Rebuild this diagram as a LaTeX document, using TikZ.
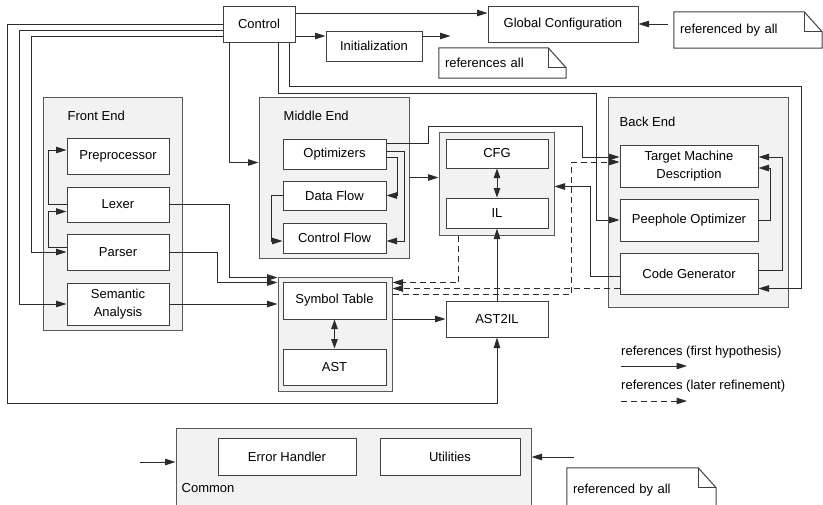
\documentclass[tikz,border=0pt]{standalone}
\usepackage{fontspec}
\setmainfont{Liberation Sans}
\usetikzlibrary{calc,arrows.meta,positioning}
\definecolor{cwire}{HTML}{2B2B2B}
\definecolor{cedge}{HTML}{404040}
\definecolor{cgroupedge}{HTML}{595959}
\definecolor{cgroup}{HTML}{F2F2F2}

\tikzset{
  wire/.style={draw=cwire, line width=1pt},
  refarr/.style={wire, -{Triangle[length=10.5pt,width=6.5pt]}},
  refdash/.style={refarr, dash pattern=on 6pt off 4pt},
  twoway/.style={wire, {Triangle[length=9.5pt,width=6.5pt]}-{Triangle[length=9.5pt,width=6.5pt]}},
  unit/.style={draw=cedge, fill=white, line width=1pt, inner sep=1pt, align=center},
  group/.style={draw=cgroupedge, fill=cgroup, line width=1pt},
  grouplabel/.style={anchor=west, inner sep=0pt},
  note/.style={inner xsep=6pt, inner ysep=0pt, align=left}
}
% folded corner of a note, drawn round a named node
\newcommand{\dogear}[1]{%
  \draw[draw=cedge, line width=1pt] (#1.north west) -- ($(#1.north east)+(-18,0)$) -- ($(#1.north east)+(0,20)$) -- (#1.south east) -- (#1.south west) -- cycle;
  \draw[draw=cedge, line width=1pt] ($(#1.north east)+(-18,0)$) |- ($(#1.north east)+(0,20)$);}

\begin{document}
\begin{tikzpicture}[x=1pt, y=-1pt, font=\fontsize{13}{18.5}\selectfont]
\useasboundingbox (0,0) rectangle (823,504);
%% groups
\node[group, minimum width=139pt, minimum height=233pt] (FrontEnd) at (112.5,213.5) {};
\node[group, minimum width=150pt, minimum height=161pt] (MidEnd) at (334,177.5) {};
\node[group, minimum width=115pt, minimum height=103pt] (CFGgrp) at (496.5,183.5) {};
\node[group, minimum width=114pt, minimum height=114pt] (SymGrp) at (335,334) {};
\node[group, minimum width=180pt, minimum height=210pt] (BackEnd) at (698,202) {};
\node[group, minimum width=355pt, minimum height=84pt] (Common) at (353.5,470) {};
\node[grouplabel] (FrontEndLbl) at ($(FrontEnd.north west)+(25,19)$) {Front End};
\node[grouplabel] (MidEndLbl) at ($(MidEnd.north west)+(25,19)$) {Middle End};
\node[grouplabel] (BackEndLbl) at ($(BackEnd.north west)+(12,25)$) {Back End};
\node[grouplabel] (CommonLbl) at ($(Common.north west)+(6,61)$) {Common};
%% units
\node[unit, minimum width=72pt, minimum height=36pt] (Control) at (259,24) {Control};
\node[unit, minimum width=96pt, minimum height=30pt] (Init) at (374,46) {Initialization};
\node[unit, minimum width=150pt, minimum height=36pt] (GlobConf) at (563,24) {Global Configuration};
\node[unit, minimum width=102pt, minimum height=36pt] (Prep) at (118,156) {Preprocessor};
\node[unit, minimum width=102pt, minimum height=35pt] (Lexer) at (118,204.5) {Lexer};
\node[unit, minimum width=102pt, minimum height=36pt] (Parser) at (118,252) {Parser};
\node[unit, minimum width=102pt, minimum height=42pt] (Semantic) at (118,304) {Semantic\\Analysis};
\node[unit, minimum width=103pt, minimum height=30pt] (Opt) at (334.5,154) {Optimizers};
\node[unit, minimum width=103pt, minimum height=29pt] (DataFlow) at (334.5,195.5) {Data Flow};
\node[unit, minimum width=103pt, minimum height=30pt] (CtrlFlow) at (334.5,238) {Control Flow};
\node[unit, minimum width=102pt, minimum height=29pt] (CFG) at (497,153.5) {CFG};
\node[unit, minimum width=102pt, minimum height=30pt] (IL) at (497,213) {IL};
\node[unit, minimum width=103pt, minimum height=37pt] (SymTab) at (334.5,300.5) {Symbol Table};
\node[unit, minimum width=103pt, minimum height=36pt] (AST) at (334.5,367) {AST};
\node[unit, minimum width=102pt, minimum height=36pt] (AST2IL) at (497,319) {AST2IL};
\node[unit, minimum width=138pt, minimum height=42pt] (Target) at (689,166) {Target Machine\\Description};
\node[unit, minimum width=138pt, minimum height=42pt] (Peephole) at (689,220) {Peephole Optimizer};
\node[unit, minimum width=138pt, minimum height=41pt] (CodeGen) at (689,273.5) {Code Generator};
\node[unit, minimum width=138pt, minimum height=37pt] (ErrHandler) at (287,456.5) {Error Handler};
\node[unit, minimum width=140pt, minimum height=37pt] (Utilities) at (450,456.5) {Utilities};
%% notes
\node[note, minimum width=148pt, minimum height=36pt, text width=136pt] (NoteGlob) at (748,30) {referenced by all};
\dogear{NoteGlob}
\node[note, minimum width=127pt, minimum height=30pt, text width=115pt] (NoteInit) at (502.5,63) {references all};
\dogear{NoteInit}
\node[note, minimum width=149pt, minimum height=44pt, text width=137pt] (NoteCommon) at (641.5,490) {referenced by all};
\dogear{NoteCommon}
%% control
\draw[refarr] (Control.west) -| (7,403) -| (AST2IL.south);
\draw[refarr] ($(Control.west)+(0,6)$) -| ($(Semantic.west)+(-47,0)$) -- (Semantic.west);
\draw[refarr] ($(Control.west)+(0,12)$) -| ($(Parser.west)+(-35,0)$) -- (Parser.west);
\draw[refarr] ($(Control.south west)+(7,0)$) |- ($(MidEnd.west)+(0,-15)$);
\draw[refarr] ($(Control.south)+(19,0)$) |- (596,93) |- (Peephole.west);
\draw[refarr] ($(Control.south)+(30,0)$) |- (801,86) |- ($(CodeGen.east)+(0,15)$);
\draw[refarr] ($(Control.east)+(0,-11)$) -- ($(GlobConf.west)+(0,-11)$);
\draw[refarr] ($(Control.east)+(0,12)$) -- ($(Init.west)+(0,-10)$);
\draw[refarr] ($(Init.east)+(0,-10)$) -- ++(28,0);
\draw[refarr] ($(GlobConf.east)+(29,0)$) -- (GlobConf.east);
%% front end
\draw[refarr] (Lexer.west) -| ($(Prep.west)+(-18,-6)$) -- ($(Prep.west)+(0,-6)$);
\draw[refarr] ($(Parser.west)+(0,-5)$) -| ($(Lexer.west)+(-18,7)$) -- ($(Lexer.west)+(0,7)$);
\draw[refarr] (Lexer.east) -| ($(SymGrp.north west)+(-48,1)$) -- ($(SymGrp.north west)+(0,1)$);
\draw[refarr] (Parser.east) -| ($(SymGrp.north west)+(-60,6)$) -- ($(SymGrp.north west)+(0,6)$);
\draw[refarr] (Semantic.east) -- (Semantic.east -| SymGrp.west);
%% middle end
\draw[refarr] ($(Opt.east)+(0,3)$) -| ($(DataFlow.east)+(11,0)$) -- (DataFlow.east);
\draw[refarr] ($(Opt.east)+(0,-3)$) -| ($(CtrlFlow.east)+(18,3)$) -- ($(CtrlFlow.east)+(0,3)$);
\draw[refarr] (DataFlow.west) -| ($(CtrlFlow.west)+(-11,3)$) -- ($(CtrlFlow.west)+(0,3)$);
\draw[refarr] (MidEnd.east) -- (MidEnd.east -| CFGgrp.west);
\draw[refarr] ($(Opt.east)+(0,-11)$) -| (428,126) -| ($(Target.west)+(-37,-9)$) -- ($(Target.west)+(0,-9)$);
\draw[twoway] (CFG.south) -- (IL.north);
\draw[twoway] (SymTab.south) -- (AST.north);
\draw[refarr] (AST2IL.west -| SymGrp.east) -- (AST2IL.west);
\draw[refarr] (AST2IL.north) -- (IL.south);
%% back end
\draw[refarr] (Peephole.east) -| ($(Target.east)+(12,2)$) -- ($(Target.east)+(0,2)$);
\draw[refarr] ($(CodeGen.east)+(0,-3)$) -| ($(Target.east)+(24,-9)$) -- ($(Target.east)+(0,-9)$);
\draw[refarr] ($(CodeGen.west)+(0,3)$) -| ($(CFGgrp.east)+(36,3)$) -- ($(CFGgrp.east)+(0,3)$);
%% later refinement
\draw[refdash] ($(CFGgrp.south)+(-38,0)$) |- ($(SymGrp.east)+(0,-51.5)$);
\draw[refdash] ($(CodeGen.west)+(0,15)$) coordinate (cgTap) -- (cgTap -| SymGrp.east);
\draw[refdash] ($(SymGrp.east)+(0,-40)$) -| ($(Target.west)+(-48,-4)$) -- ($(Target.west)+(0,-4)$);
%% common
\draw[refarr] ($(Common.west)+(-36,-8)$) -- ($(Common.west)+(0,-8)$);
\draw[refarr] ($(Common.east)+(42,-13)$) -- ($(Common.east)+(0,-13)$);
%% legend
\node[anchor=west, inner sep=0pt] (LegFirst) at (621,352) {references (first hypothesis)};
\draw[refarr] ($(LegFirst.west)+(0,14)$) -- ++(66,0);
\node[anchor=west, inner sep=0pt] (LegLater) at (621,386) {references (later refinement)};
\draw[refdash] ($(LegLater.west)+(0,15)$) -- ++(66,0);
\end{tikzpicture}
\end{document}
